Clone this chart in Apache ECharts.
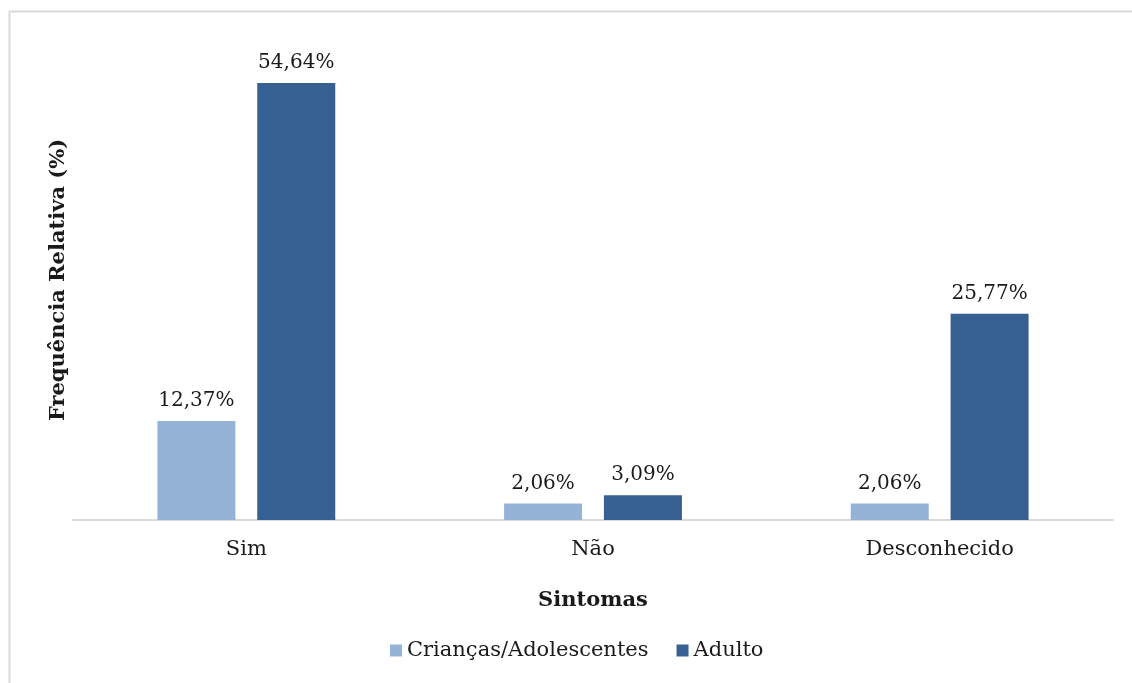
<!DOCTYPE html>
<html>
<head>
<meta charset="utf-8">
<script src="https://cdn.jsdelivr.net/npm/echarts@6/dist/echarts.min.js"></script>
<style>
  html, body { margin: 0; padding: 0; background: #ffffff; }
  #chart { width: 1132px; height: 683px; }
</style>
</head>
<body>
<div id="chart"></div>
<script>
// Sintomas por faixa etária (frequência relativa, %)
const categories = ['Sim', 'Não', 'Desconhecido'];
const seriesNames = ['Crianças/Adolescentes', 'Adulto'];
const criancas = [12.37, 2.06, 2.06];
const adulto = [54.64, 3.09, 25.77];

const FONT = '"DejaVu Serif", Georgia, serif';
const fmt = v => v.toFixed(2).replace('.', ',') + '%';

const chart = echarts.init(document.getElementById('chart'));

const labelStyle = {
  show: true,
  position: 'top',
  distance: 10,
  fontFamily: FONT,
  fontSize: 20,
  color: '#1a1a1a',
  formatter: p => fmt(p.value)
};

chart.setOption({
  animation: false,
  backgroundColor: '#ffffff',
  graphic: [{
    type: 'rect',
    shape: { x: 9.5, y: 11.5, width: 1200, height: 700 },
    style: { fill: 'none', stroke: '#d9d9d9', lineWidth: 2 },
    silent: true
  }],
  grid: { left: 73, right: 19, top: 40, bottom: 163 },
  legend: {
    bottom: 17,
    left: 385,
    itemWidth: 12,
    itemHeight: 12,
    itemGap: 28,
    icon: 'rect',
    textStyle: { fontFamily: FONT, fontSize: 21, color: '#1a1a1a' },
    data: seriesNames
  },
  xAxis: {
    type: 'category',
    data: categories,
    name: 'Sintomas',
    nameLocation: 'middle',
    nameGap: 70,
    nameTextStyle: { fontFamily: FONT, fontSize: 21, fontWeight: 'bold', color: '#1a1a1a' },
    axisLine: { lineStyle: { color: '#d9d9d9', width: 2 } },
    axisTick: { show: false },
    axisLabel: { fontFamily: FONT, fontSize: 21, color: '#1a1a1a', margin: 19 }
  },
  yAxis: {
    type: 'value',
    min: 0,
    max: 60,
    interval: 10,
    name: 'Frequência Relativa (%)',
    nameLocation: 'middle',
    nameGap: 4,
    nameRotate: 90,
    nameTextStyle: { fontFamily: FONT, fontSize: 21, fontWeight: 'bold', color: '#1a1a1a' },
    axisLine: { show: false },
    axisTick: { show: false },
    axisLabel: { show: false },
    splitLine: { show: false }
  },
  series: [
    {
      name: seriesNames[0],
      type: 'bar',
      data: criancas,
      barWidth: 78,
      barGap: '28%',
      itemStyle: { color: '#95b3d7' },
      label: labelStyle
    },
    {
      name: seriesNames[1],
      type: 'bar',
      data: adulto,
      barWidth: 78,
      barGap: '28%',
      itemStyle: { color: '#376092' },
      label: labelStyle
    }
  ]
});
</script>
</body>
</html>
